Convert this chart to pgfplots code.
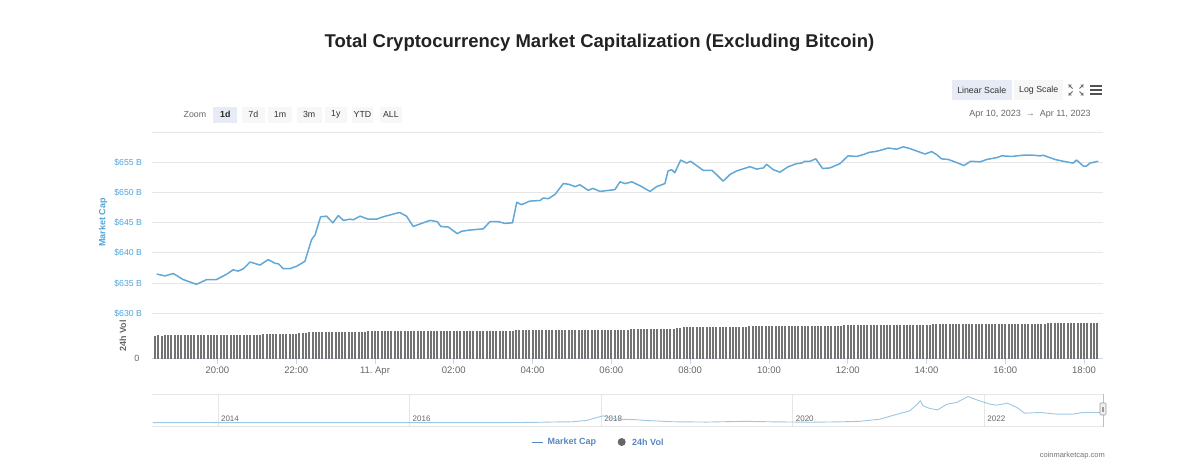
\documentclass[border=0pt]{standalone}
\usepackage{pgfplots}
\pgfplotsset{compat=1.18}
\usepackage{pgfplotstable}
\usepackage{fontspec}
\setmainfont{Liberation Sans}

\definecolor{capline}{HTML}{62A8D6}
\definecolor{capaxis}{HTML}{4FA4DC}
\definecolor{volbar}{HTML}{737373}
\definecolor{gridc}{HTML}{E6E6E6}
\definecolor{axisc}{HTML}{CCD6EB}
\definecolor{labgray}{HTML}{666666}
\definecolor{legblue}{HTML}{5A86BE}
\definecolor{navline}{HTML}{9CC6E2}
\definecolor{btn}{HTML}{F7F7F7}
\definecolor{btnsel}{HTML}{E6EBF5}
\newcommand\fs[1]{\fontsize{#1}{#1}\selectfont}

% market cap, hours from 11 Apr 00:00, billions USD
\pgfplotstableread{
h cap
-5.54 636.5
-5.33 636.2
-5.12 636.6
-4.87 635.6
-4.53 634.8
-4.27 635.6
-4.02 635.6
-3.76 636.5
-3.60 637.2
-3.47 637.0
-3.34 637.4
-3.17 638.5
-2.92 638.0
-2.71 638.9
-2.54 638.3
-2.45 638.2
-2.33 637.4
-2.16 637.4
-1.99 637.8
-1.78 638.6
-1.61 642.2
-1.52 643.0
-1.38 646.0
-1.23 646.1
-1.07 645.0
-0.93 646.2
-0.80 645.4
-0.63 645.6
-0.55 645.5
-0.38 646.1
-0.17 645.6
0.04 645.6
0.21 646.0
0.38 646.3
0.55 646.6
0.63 646.7
0.80 646.1
0.97 644.4
1.14 644.8
1.40 645.4
1.58 645.2
1.67 644.4
1.86 644.3
2.09 643.2
2.20 643.6
2.41 643.8
2.75 644.0
2.92 645.2
3.13 645.2
3.30 644.9
3.49 645.0
3.60 648.4
3.72 648.0
3.93 648.6
4.19 648.7
4.27 649.1
4.40 649.0
4.57 649.7
4.78 651.5
4.91 651.4
5.08 651.0
5.20 651.3
5.41 650.4
5.54 650.7
5.71 650.2
6.09 650.5
6.22 651.8
6.35 651.5
6.52 651.8
6.77 651.0
6.98 650.2
7.15 651.0
7.36 651.5
7.44 653.6
7.53 653.8
7.61 653.3
7.76 655.4
7.91 654.9
8.01 655.2
8.16 654.5
8.33 653.7
8.55 653.7
8.67 653.0
8.84 651.9
9.01 653.0
9.18 653.6
9.52 654.3
9.69 653.9
9.86 654.1
9.94 654.7
10.11 653.8
10.28 653.4
10.49 654.3
10.70 654.8
10.83 654.9
10.91 655.2
11.04 655.2
11.19 655.6
11.36 654.0
11.55 654.1
11.80 654.8
12.01 656.1
12.23 656.0
12.39 656.3
12.56 656.7
12.69 656.8
12.82 657.0
13.03 657.4
13.24 657.2
13.41 657.6
13.58 657.3
13.75 656.9
13.96 656.4
14.13 656.8
14.26 656.3
14.38 655.6
14.55 655.5
14.72 655.1
14.95 654.5
15.12 655.2
15.36 655.1
15.53 655.5
15.78 655.8
15.91 656.1
16.16 656.0
16.45 656.2
16.71 656.2
16.88 656.1
16.96 656.2
17.26 655.5
17.47 655.2
17.72 654.9
17.81 655.4
17.98 654.4
18.06 654.4
18.15 654.9
18.36 655.2
}\captable

% 24h volume, one bar every 5 minutes from 18:25, one hour per line
\pgfplotstableread[row sep=\\]{
vol\\
23.0\\23.1\\23.0\\23.1\\23.1\\23.2\\23.1\\23.2\\23.2\\23.3\\23.2\\23.3\\
23.3\\23.4\\23.3\\23.4\\23.4\\23.5\\23.4\\23.5\\23.5\\23.6\\23.5\\23.6\\
23.6\\23.7\\23.7\\23.8\\23.8\\23.9\\23.9\\24.0\\24.0\\24.1\\24.1\\24.2\\
24.2\\24.3\\24.3\\24.4\\24.4\\24.5\\24.5\\25.0\\25.4\\25.8\\26.0\\26.1\\
26.2\\26.3\\26.4\\26.4\\26.5\\26.5\\26.6\\26.6\\26.7\\26.7\\26.8\\26.8\\
26.9\\26.9\\27.0\\27.0\\27.0\\27.1\\27.1\\27.1\\27.2\\27.2\\27.2\\27.2\\
27.2\\27.3\\27.3\\27.3\\27.3\\27.3\\27.4\\27.4\\27.4\\27.4\\27.4\\27.5\\
27.5\\27.5\\27.5\\27.5\\27.6\\27.6\\27.6\\27.6\\27.6\\27.7\\27.7\\27.7\\
27.7\\27.7\\27.8\\27.8\\27.8\\27.8\\27.9\\27.9\\27.9\\27.9\\28.0\\28.0\\
28.0\\28.0\\28.1\\28.1\\28.1\\28.1\\28.2\\28.2\\28.2\\28.2\\28.3\\28.3\\
28.3\\28.3\\28.4\\28.4\\28.4\\28.4\\28.5\\28.5\\28.5\\28.5\\28.6\\28.6\\
28.6\\28.6\\28.7\\28.7\\28.7\\28.7\\28.8\\28.8\\28.8\\28.9\\28.9\\29.0\\
29.0\\29.1\\29.1\\29.2\\29.2\\29.3\\29.3\\29.4\\29.4\\29.5\\29.5\\29.6\\
29.6\\29.7\\29.7\\30.4\\31.0\\31.2\\31.2\\31.3\\31.3\\31.3\\31.4\\31.4\\
31.4\\31.5\\31.5\\31.6\\31.6\\31.7\\31.7\\31.8\\31.8\\31.9\\31.9\\32.0\\
32.0\\32.1\\32.1\\32.2\\32.2\\32.2\\32.3\\32.3\\32.3\\32.4\\32.4\\32.4\\
32.5\\32.5\\32.5\\32.6\\32.6\\32.6\\32.7\\32.7\\32.7\\32.8\\32.8\\32.8\\
32.9\\32.9\\32.9\\33.0\\33.0\\33.0\\33.1\\33.1\\33.2\\33.2\\33.3\\33.3\\
33.3\\33.4\\33.4\\33.5\\33.5\\33.5\\33.6\\33.6\\33.6\\33.7\\33.7\\33.8\\
33.8\\33.8\\33.9\\33.9\\33.9\\34.0\\34.0\\34.0\\34.0\\34.1\\34.1\\34.1\\
34.1\\34.2\\34.2\\34.2\\34.3\\34.3\\34.3\\34.4\\34.4\\34.4\\34.5\\34.5\\
34.5\\34.5\\34.6\\34.6\\34.6\\34.7\\34.7\\34.7\\34.7\\34.8\\34.8\\34.8\\
34.8\\34.9\\34.9\\34.9\\35.0\\35.0\\35.0\\35.0\\35.1\\35.1\\35.1\\35.1\\
35.2\\35.2\\35.2\\35.2\\35.3\\35.3\\35.3\\35.3\\35.3\\35.4\\35.4\\35.4\\
}\voltable

% navigator: whole history, year and billions USD
\pgfplotstableread{
yr val
2013.32 2
2013.9 10
2014.1 5
2014.5 3
2015.0 2
2015.5 2
2016.0 3
2016.5 6
2017.0 6
2017.3 20
2017.5 45
2017.7 60
2017.85 150
2017.95 330
2018.02 450
2018.1 300
2018.2 220
2018.35 200
2018.45 150
2018.75 60
2019.1 40
2019.5 90
2019.75 60
2019.97 45
2020.2 30
2020.49 55
2020.7 90
2020.91 229
2021.09 555
2021.22 771
2021.30 1209
2021.33 1425
2021.36 1098
2021.43 928
2021.51 837
2021.61 1209
2021.71 1320
2021.83 1712
2021.88 1582
2021.95 1425
2022.06 1209
2022.13 1144
2022.24 1275
2022.34 993
2022.42 621
2022.58 667
2022.76 555
2022.92 555
2023.03 667
2023.23 667
}\navtable

\begin{document}
\begin{tikzpicture}
\path[use as bounding box] (0pt,0pt) rectangle (1180pt,-475pt);

% main panel: market cap
\begin{axis}[
  at={(152pt,-132.3pt)}, anchor=north west,
  scale only axis, width=951pt, height=181pt,
  xmin=-5.66, xmax=18.48, ymin=630, ymax=660,
  axis line style={draw=none},
  major tick length=0pt,
  xtick=\empty,
  ytick={630,635,...,660},
  yticklabels={\$630 B,\$635 B,\$640 B,\$645 B,\$650 B,\$655 B,{}},
  yticklabel style={text=capaxis, font=\fs{8.7}, xshift=-6.5pt},
  ymajorgrids, grid style={gridc, line width=1pt},
]
\addplot[capline, line width=1.5pt, line join=round] table[x=h, y=cap]{\captable};
\end{axis}

% volume panel
\begin{axis}[
  at={(152pt,-358.5pt)}, anchor=south west,
  scale only axis, width=951pt, height=45.2pt,
  xmin=-5.66, xmax=18.48, ymin=0, ymax=45.2,
  axis x line*=bottom, axis y line*=left,
  x axis line style={axisc, line width=0.8pt},
  y axis line style={draw=none},
  tick align=outside, major tick length=5pt,
  xtick={-4,-2,...,18},
  xticklabels={20:00,22:00,11.\ Apr,02:00,04:00,06:00,08:00,10:00,12:00,14:00,16:00,18:00},
  xtick style={axisc, line width=0.8pt},
  xticklabel style={text=labgray, font=\fs{9.5}},
  ytick={0}, yticklabels={0},
  ytick style={draw=none},
  yticklabel style={text=labgray, font=\fs{9}, xshift=-4pt},
]
\addplot[ycomb, volbar, line width=2pt] table[x expr={(\coordindex*5-335)/60}, y=vol]{\voltable};
\end{axis}

% navigator
\begin{axis}[
  at={(152pt,-394.3pt)}, anchor=north west,
  scale only axis, width=951pt, height=32.2pt,
  xmin=2013.311, xmax=2023.238, ymin=-250, ymax=1854,
  axis line style={draw=none},
  major tick length=0pt,
  xtick={2014,2016,...,2022}, xticklabels={},
  ytick=\empty,
  xmajorgrids, grid style={gridc, line width=0.8pt},
  clip=false,
]
\draw[gridc, line width=0.8pt] (rel axis cs:0,1) -- (rel axis cs:1,1);
\draw[gridc, line width=0.8pt] (rel axis cs:0,0) -- (rel axis cs:1,0);
\foreach \yr in {2014,2016,2018,2020,2022}{
  \edef\tmp{\noexpand\node[anchor=base west, text=labgray, font=\noexpand\fs{8}, inner sep=0pt]
    at (axis cs:\yr.03,80) {\yr};}\tmp
}
\addplot[navline, line width=0.9pt] table[x=yr, y=val]{\navtable};
\end{axis}

\begin{scope}[x=1pt, y=-1pt]
% title
\node[font=\bfseries\fs{18.5}, text={rgb,255:red,34;green,34;blue,34}] at (599.5,43) {Total Cryptocurrency Market Capitalization (Excluding Bitcoin)};

% axis titles
\node[rotate=90, font=\bfseries\fs{9}, text=capaxis] at (103,222.7) {Market Cap};
\node[rotate=90, font=\bfseries\fs{9}, text=labgray] at (123,336) {24h Vol};

% zoom buttons
\node[anchor=west, text=labgray, font=\fs{8.8}, inner sep=0pt] at (183.5,114.5) {Zoom};
\fill[btnsel] (213.3,106.7) rectangle (237.3,122.7);
\node[font=\bfseries\fs{8.8}, text=black!85] at (225.3,114.5) {1d};
\foreach \a/\b/\t in {241.7/265/7d, 268.3/291.7/1m, 296.7/321.7/3m, 325/346.7/1y, 351.7/373.3/YTD, 380/401.7/ALL}{
  \fill[btn] (\a,106.7) rectangle (\b,122.7);
  \node[font=\fs{8.8}, text=black!80] at ({(\a+\b)/2},114.5) {\t};
}

% scale buttons and icons
\fill[btnsel] (951.7,80) rectangle (1011.7,100);
\node[font=\fs{8.8}, text=black!80] at (981.7,90) {Linear Scale};
\fill[btn] (1014,80) rectangle (1063.3,100);
\node[font=\fs{8.8}, text=black!80] at (1038.7,90) {Log Scale};
\begin{scope}[labgray, line width=0.9pt]
\draw (1072.5,88.5) -- (1069,85) -- (1069,87.5) (1069,85) -- (1071.5,85);
\draw (1079.5,88.5) -- (1083,85) -- (1083,87.5) (1083,85) -- (1080.5,85);
\draw (1072.5,91.5) -- (1069,95) -- (1069,92.5) (1069,95) -- (1071.5,95);
\draw (1079.5,91.5) -- (1083,95) -- (1083,92.5) (1083,95) -- (1080.5,95);
\end{scope}
\draw[labgray!80!black, line width=2pt] (1090,86) -- (1102,86) (1090,90) -- (1102,90) (1090,94) -- (1102,94);

% date range
\node[font=\fs{9}, text=labgray] at (1030,114.5) {Apr 10, 2023 \ → \ Apr 11, 2023};

% navigator handle
\draw[black!25, line width=0.8pt] (1103,394.3) -- (1103,426.5);
\draw[black!40, fill=black!6, rounded corners=1pt, line width=0.6pt] (1100,403) rectangle (1106,415);
\draw[black!40, line width=0.5pt] (1102.3,406.5) -- (1102.3,411.5) (1103.7,406.5) -- (1103.7,411.5);

% legend
\draw[legblue, line width=1.6pt] (531.7,442.5) -- (542.7,442.5);
\node[anchor=west, font=\bfseries\fs{9}, text=legblue, inner sep=0pt] at (547.5,442.5) {Market Cap};
\fill[labgray] (621.7,442) circle (4);
\node[anchor=west, font=\bfseries\fs{9}, text=legblue, inner sep=0pt] at (632,442.5) {24h Vol};

% credit
\node[anchor=east, font=\fs{7.5}, text=black!55, inner sep=0pt] at (1105,456) {coinmarketcap.com};
\end{scope}
\end{tikzpicture}
\end{document}
